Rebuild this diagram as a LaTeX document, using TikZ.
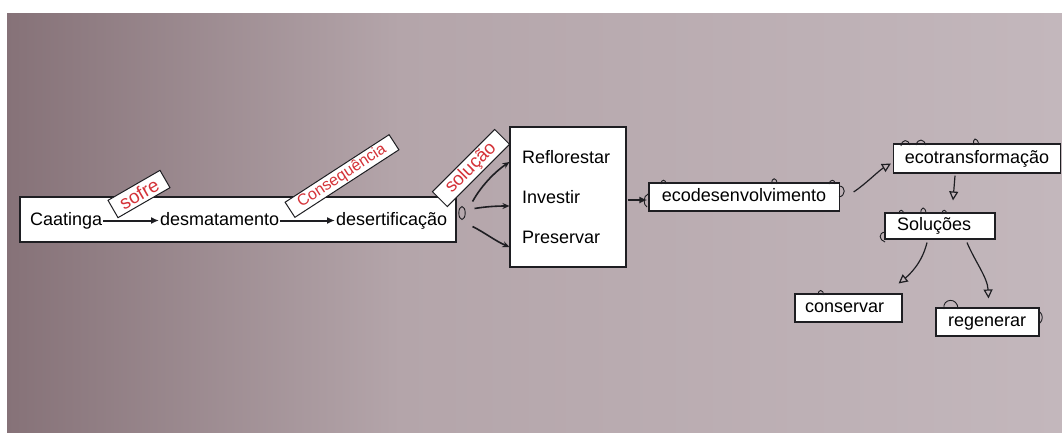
\documentclass[tikz,border=0pt]{standalone}
\usepackage{fontspec}
\setmainfont{Liberation Sans}
\usetikzlibrary{arrows.meta,calc}
\definecolor{labred}{RGB}{212,50,56}
\definecolor{ink}{RGB}{30,30,34}
\definecolor{bgL}{RGB}{134,114,120}
\definecolor{bgM}{RGB}{180,165,170}
\definecolor{bgR}{RGB}{195,183,188}
\begin{document}
\begin{tikzpicture}[x=1pt,y=-1pt,
  box/.style={draw=ink, line width=1.1pt, fill=white, inner sep=0pt,
    font=\fontsize{18}{20}\selectfont, text height=13pt, text depth=4pt},
  txt/.style={inner sep=0pt, text height=13pt, text depth=4pt,
    font=\fontsize{18}{20}\selectfont},
  lbl/.style={draw=ink, line width=1pt, fill=white, text=labred, inner sep=0pt},
  ar/.style={draw=ink, line width=2pt, -{Latex[length=8pt,width=7pt]}},
  fork/.style={draw=ink, line width=1.6pt, -{Stealth[length=7pt,width=6pt]}},
  pen/.style={draw=ink, line width=1.2pt},
  oarr/.style={pen, -{Triangle[open,length=9pt,width=9pt]}},
  doodle/.style={draw=ink, line width=0.9pt}
]
\useasboundingbox (0,0) rectangle (1062,432);
% photo background
\fill[white] (0,0) rectangle (1062,432);
\shade[left color=bgL, right color=bgM] (7,13) rectangle (400,432);
\shade[left color=bgM, right color=bgR] (400,13) rectangle (1062,432);

% chain box
\node[box, minimum width=436pt, minimum height=45pt] (chain) at (238,219.5) {};
\node[txt, anchor=base west] (caat) at (30,225) {Caatinga};
\node[txt, anchor=base west] (desm) at (160,225) {desmatamento};
\node[txt, anchor=base west] (dese) at (336,225) {desertificação};
\draw[ar, shorten <=1pt, shorten >=1pt] (caat) -- (desm);
\draw[ar, shorten <=1pt, shorten >=1pt] (desm) -- (dese);

% rotated labels
\node[lbl, rotate=30, minimum width=60pt, minimum height=20pt,
      font=\fontsize{19}{21}\selectfont] (sofre) at (139,194) {sofre};
\node[lbl, rotate=33, minimum width=124pt, minimum height=18pt,
      font=\fontsize{16}{18}\selectfont] (cons) at (342,176) {Consequência};
\node[lbl, rotate=45, minimum width=88pt, minimum height=21pt,
      font=\fontsize{18.5}{20}\selectfont] (solu) at (471,168) {solução};

% middle box
\node[box, minimum width=116pt, minimum height=140pt] (mid) at (568,197) {};
\node[txt, anchor=base west] (refl) at (522,163) {Reflorestar};
\node[txt, anchor=base west] (inv) at (522,203) {Investir};
\node[txt, anchor=base west] (pres) at (522,243) {Preservar};

% fork from desertificacao
\coordinate (f1) at ($(chain.east)+(16,-18)$);
\coordinate (f2) at ($(chain.east)+(18,-11)$);
\coordinate (f3) at ($(chain.east)+(16,7)$);
\draw[doodle] (462,213) ellipse [x radius=3.2pt, y radius=6.5pt];
\draw[fork] (f1) .. controls ($(f1)+(10,-18)$) and ($(mid.west)+(-12,-27)$) .. ($(mid.west)+(0,-35)$);
\draw[fork] (f2) .. controls ($(f2)+(12,-2)$) and ($(mid.west)+(-12,9)$) .. ($(mid.west)+(0,9)$);
\draw[fork] (f3) .. controls ($(f3)+(12,6)$) and ($(mid.west)+(-14,44)$) .. ($(mid.west)+(0,50)$);

% ecodesenvolvimento
\node[box, inner xsep=13pt, minimum height=28pt] (ecod) at (744,197) {ecodesenvolvimento};
\draw[ar] ($(mid.east)+(1,3)$) -- ($(ecod.west)+(-1,3)$);

% ecotransformacao
\node[box, inner xsep=11.5pt, minimum height=29pt] (ecot) at (977,158.5) {ecotransformação};
\draw[oarr] ($(ecod.east)+(14,-5)$) .. controls ($(ecod.east)+(26,-13)$) and ($(ecot.west)+(-14,12)$) .. ($(ecot.west)+(-2,5)$);

% Solucoes
\node[box, inner xsep=12pt, minimum height=26pt] (sol) at (940,226) {\makebox[86pt][l]{Soluções}};
\draw[oarr] ($(ecot.south)+(-22,2)$) -- ($(sol.north)+(13,-12)$);

% conservar / regenerar
\node[box, inner xsep=10pt, minimum height=28pt] (csv) at (848.5,308) {\makebox[87pt][l]{conservar}};
\node[box, inner xsep=12pt, minimum height=28pt] (rgn) at (987.5,322) {\makebox[79pt][l]{regenerar}};
\draw[oarr] ($(sol.south)+(-13,3)$) .. controls ($(sol.south)+(-18,24)$) and ($(csv.north east)+(6,-18)$) .. ($(csv.north east)+(-4,-10)$);
\draw[oarr] ($(sol.south)+(27,3)$) .. controls ($(sol.south)+(35,22)$) and ($(rgn.north)+(0,-30)$) .. ($(rgn.north)+(1,-9)$);

% hand-drawn loops
\draw[doodle] (647,207) .. controls (643,205) and (643,196) .. (648,194);
\draw[doodle] (661,184) .. controls (661,179) and (666,179) .. (666,184);
\draw[doodle] (772,184) .. controls (771,177) and (777,177) .. (777,184);
\draw[doodle] (829,184) .. controls (830,179) and (835,179) .. (835,184);
\draw[doodle] (839,186) .. controls (846,186) and (846,196) .. (839,197);
\draw[doodle] (901,146) .. controls (902,139) and (908,139) .. (910,145);
\draw[doodle] (916,145) .. controls (918,138) and (924,139) .. (926,145);
\draw[doodle] (974,145) .. controls (972,138) and (977,136) .. (979,145);
\draw[doodle] (885,232) .. controls (878,233) and (879,240) .. (885,242);
\draw[doodle] (899,214) .. controls (899,209) and (903,209) .. (904,214);
\draw[doodle] (921,214) .. controls (920,206) and (926,206) .. (926,214);
\draw[doodle] (942,214) .. controls (942,209) and (946,209) .. (947,214);
\draw[doodle] (818,295) .. controls (818,289) and (823,289) .. (824,295);
\draw[doodle] (944,309) .. controls (942,298) and (958,297) .. (958,309);
\draw[doodle] (1040,312) .. controls (1043,315) and (1043,320) .. (1040,323);
\end{tikzpicture}
\end{document}
